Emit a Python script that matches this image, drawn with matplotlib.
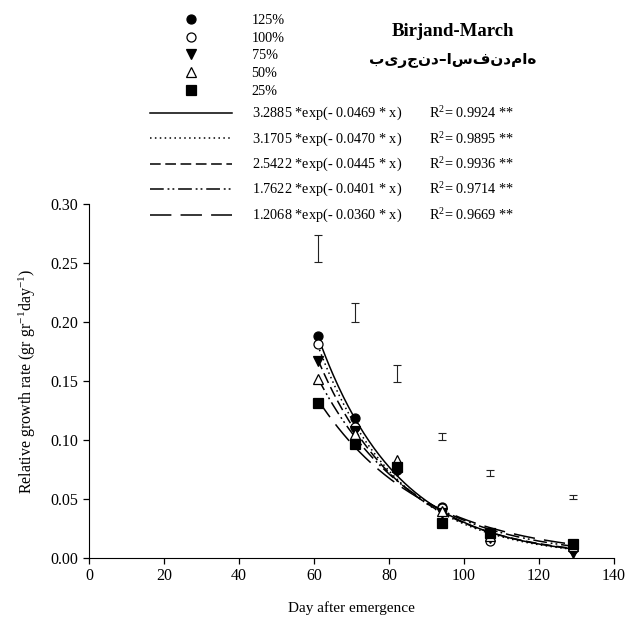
import matplotlib
matplotlib.use("Agg")
import matplotlib.pyplot as plt
import numpy as np
from matplotlib.lines import Line2D

plt.rcParams["font.family"] = ["Liberation Serif", "DejaVu Sans"]
plt.rcParams["mathtext.fontset"] = "custom"
plt.rcParams["mathtext.rm"] = "Liberation Serif"
plt.rcParams["mathtext.it"] = "Liberation Serif:italic"
plt.rcParams["mathtext.bf"] = "Liberation Serif:bold"

# sampling days after emergence
days = [61, 71, 82, 94, 107, 129]

# relative growth rate per treatment
labels = ["125%", "100%", "75%", "50%", "25%"]
rgr_125 = [0.188, 0.119, 0.075, 0.0435, 0.018, 0.008]
rgr_100 = [0.181, 0.111, 0.076, 0.042, 0.014, 0.009]
rgr_75 = [0.167, 0.108, 0.074, 0.038, 0.017, 0.0045]
rgr_50 = [0.152, 0.105, 0.083, 0.040, 0.019, 0.010]
rgr_25 = [0.131, 0.097, 0.077, 0.030, 0.021, 0.012]
series = [rgr_125, rgr_100, rgr_75, rgr_50, rgr_25]

# exponential fit y = a*exp(-b*x)
fit_a = [3.2885, 3.1705, 2.5422, 1.7622, 1.2068]
fit_b = [0.0469, 0.0470, 0.0445, 0.0401, 0.0360]
fit_r2 = [0.9924, 0.9895, 0.9936, 0.9714, 0.9669]

# LSD bars
lsd_center = [0.2623, 0.208, 0.1565, 0.103, 0.072, 0.0515]
lsd_half = [0.0115, 0.0078, 0.0071, 0.003, 0.0026, 0.0019]

markers = ["o", "o", "v", "^", "s"]
faces = ["black", "white", "black", "white", "black"]
styles = ["-", (0, (1, 2.2)), (0, (7, 3)), (0, (9, 2.5, 1.2, 2, 1.2, 2.5)), (0, (14, 6))]

fig = plt.figure(figsize=(6.27, 6.18), dpi=100)
ax = fig.add_axes([89 / 627, 1 - 558 / 618, 525 / 627, 354 / 618])

xs = np.linspace(days[0], days[-1], 200)
for a, b, ls in zip(fit_a, fit_b, styles):
    ax.plot(xs, a * np.exp(-b * xs), color="black", lw=1.1, ls=ls, zorder=2)

for y, m, fc in zip(series, markers, faces):
    ax.plot(days, y, ls="none", marker=m, ms=6.5, mfc=fc, mec="black",
            mew=0.9, zorder=3)

ax.errorbar(days, lsd_center, yerr=lsd_half, fmt="none", ecolor="#222222",
            elinewidth=0.8, capsize=3.2, capthick=0.8)

ax.set_xlim(0, 140)
ax.set_ylim(0, 0.30)
ax.set_xticks(np.arange(0, 141, 20))
ax.set_yticks(np.arange(0, 0.301, 0.05))
ax.yaxis.set_major_formatter(matplotlib.ticker.FormatStrFormatter("%.2f"))
for s in ["top", "right"]:
    ax.spines[s].set_visible(False)
ax.tick_params(direction="out", length=4, width=0.9, labelsize=11.5)
ax.set_xlabel("Day after emergence", fontsize=11, labelpad=12)
ax.set_ylabel("Relative growth rate (gr gr$^{-1}$day$^{-1}$)", fontsize=11.5, labelpad=9)

# marker legend
mk_handles = [Line2D([], [], ls="none", marker=m, ms=6.5, mfc=fc, mec="black", mew=0.9)
              for m, fc in zip(markers, faces)]
fig.legend(mk_handles, labels, loc="upper left",
           bbox_to_anchor=(150 / 627, 1 - 14 / 618), frameon=False,
           fontsize=10.3, handlelength=5.7, handletextpad=1.4,
           labelspacing=0.33, borderpad=0, borderaxespad=0)

# fitted-curve legend
ln_handles = [Line2D([], [], color="black", lw=1.1, ls=ls) for ls in styles]
ln_labels = [f"{a:.4f} *exp(- {b:.4f} * x)        R$^2$= {r:.4f} **"
             for a, b, r in zip(fit_a, fit_b, fit_r2)]
fig.legend(ln_handles, ln_labels, loc="upper left",
           bbox_to_anchor=(150 / 627, 1 - 105 / 618), frameon=False,
           fontsize=10.3, handlelength=5.7, handletextpad=1.4,
           labelspacing=0.5, borderpad=0, borderaxespad=0)

fig.text(453 / 627, 1 - 32 / 618, "Birjand-March", ha="center", va="center",
         fontsize=13.5, fontweight="bold")
fig.text(453 / 627, 1 - 61 / 618, "بیرجند–اسفندماه", ha="center", va="center",
         fontsize=11, fontweight="bold", family=["DejaVu Sans"])

fig.savefig("out.png", dpi=100)
